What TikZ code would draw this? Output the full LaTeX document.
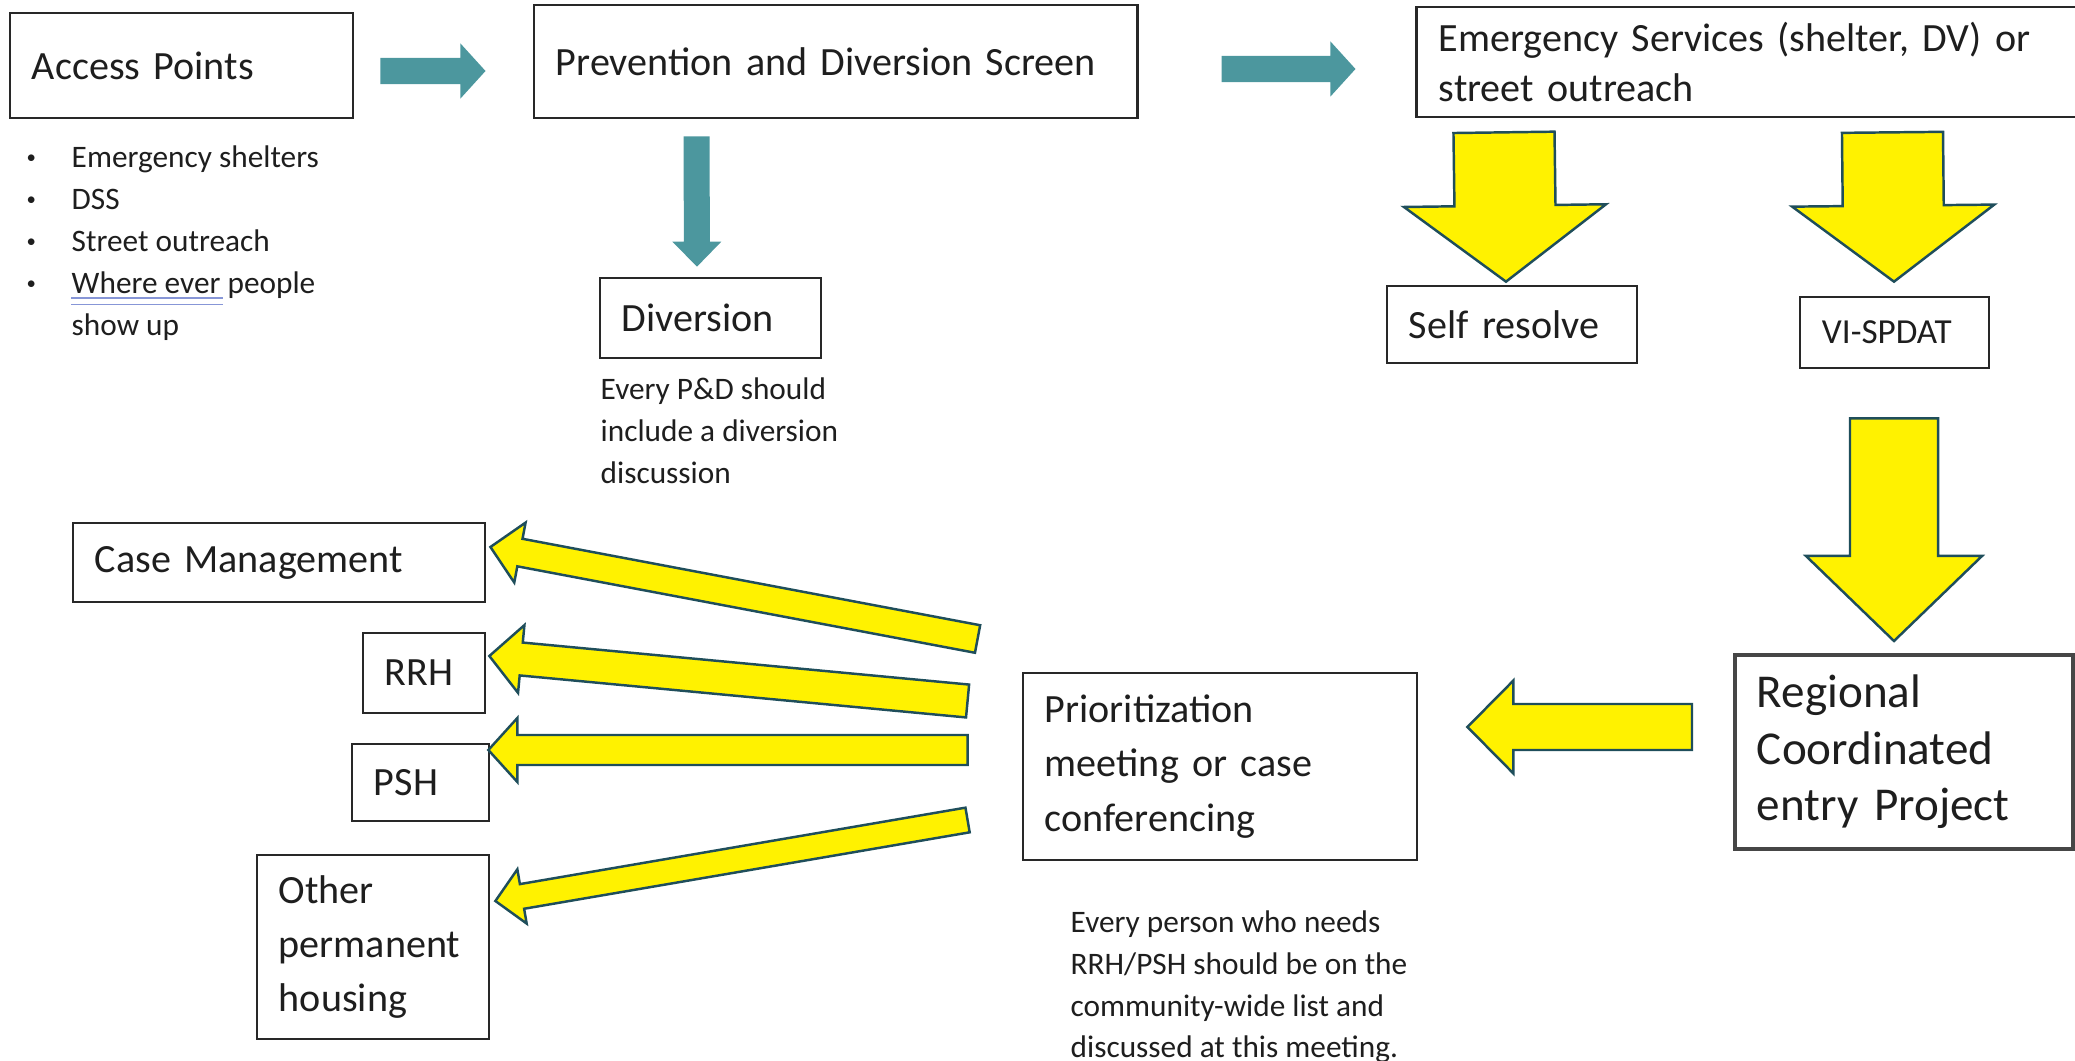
\documentclass[tikz,border=0pt]{standalone}
\usepackage{fontspec}
\setmainfont{Carlito}
\usepackage{tikz}
\usetikzlibrary{calc}
\usepackage{xcolor}

\definecolor{boxline}{RGB}{40,40,40}
\definecolor{regline}{RGB}{70,70,70}
\definecolor{textgray}{RGB}{30,30,30}
\definecolor{tealfill}{RGB}{76,151,158}
\definecolor{arrowedge}{RGB}{31,78,91}
\definecolor{spellblue}{RGB}{135,150,215}

% block arrow: [style]{tail}{tip}{shaft half width}{head half width}{head length}
\newcommand{\blockarrow}[6][]{%
  \coordinate (hb) at ($(#3)!#6!(#2)$);
  \draw[#1] ($(#2)!#4!90:(#3)$) -- ($(hb)!#4!90:(#3)$) -- ($(hb)!#5!90:(#3)$) -- (#3)
    -- ($(hb)!#5!-90:(#3)$) -- ($(hb)!#4!-90:(#3)$) -- ($(#2)!#4!-90:(#3)$) -- cycle;}
\newcommand{\bitem}{\makebox[0.49cm][l]{\hspace{0.04cm}\raisebox{0.13em}{\scalebox{0.6}{\textbullet}}}}

\begin{document}
\begin{tikzpicture}[x=0.01cm, y=-0.01cm,
    box/.style={draw=boxline, line width=0.75pt, inner xsep=0.22cm, inner ysep=0pt,
      align=left, text=textgray, font=\fontsize{11.4}{15.4}\selectfont},
    note/.style={anchor=north west, inner sep=0pt, align=left, text=textgray,
      font=\fontsize{8.9}{11.9}\selectfont},
    tealarrow/.style={fill=tealfill, draw=none},
    yellowarrow/.style={fill=yellow, draw=arrowedge, line width=0.7pt, line join=miter}]

        \useasboundingbox (0,0) rectangle (2075,1061);
        \clip (0,0) rectangle (2075,1061);

        % Top row of boxes
        \node[box, text width=2.99cm, minimum height=1.05cm] (access) at (181.5,65.5) {Access Points};
        \node[box, text width=5.59cm, minimum height=1.13cm] (screen) at (835.5,61.5) {Prevention and Diversion Screen};
        \node[box, text width=6.36cm, minimum height=1.10cm, font=\fontsize{11.4}{14.2}\selectfont] (emerg) at (1757,62) {Emergency Services (shelter, DV) or\\street outreach};

        % Second row of boxes
        \node[box, text width=1.77cm, minimum height=0.80cm] (diversion) at (710.5,318) {Diversion};
        \node[box, text width=2.06cm, minimum height=0.77cm] (selfres) at (1512,324.5) {Self resolve};
        \node[box, text width=1.45cm, minimum height=0.71cm, font=\fontsize{10}{12}\selectfont] (vispdat) at (1894.5,332.5) {VI-SPDAT};

        % Lower part
        \node[box, text width=2.94cm, minimum height=1.94cm, draw=regline, line width=1.1pt, font=\fontsize{13.4}{16.1}\selectfont] (regional) at (1904,752) {Regional\\Coordinated\\entry Project};
        \node[box, text width=3.50cm, minimum height=1.87cm] (prio) at (1220,766.5) {Prioritization\\meeting or case\\conferencing};
        \node[box, text width=3.68cm, minimum height=0.79cm] (casemgmt) at (279,562.5) {Case Management};
        \node[box, text width=0.78cm, minimum height=0.80cm] (rrh) at (424,673) {RRH};
        \node[box, text width=0.93cm, minimum height=0.77cm] (psh) at (420.5,782.5) {PSH};
        \node[box, text width=1.88cm, minimum height=1.84cm] (other) at (373,947) {Other\\permanent\\housing};

        % Notes
        \node[note] (access list) at (22,145.5) {\bitem Emergency shelters\\\bitem DSS\\\bitem Street outreach\\\bitem Where ever people\\\hspace*{0.49cm}show up};
        \node[note] (div note) at (600,377.5) {Every P\&D should\\include a diversion\\discussion};
        \node[note] (prio note) at (1070,910) {Every person who needs\\RRH/PSH should be on the\\community-wide list and\\discussed at this meeting.};
        \draw[spellblue, line width=0.35pt] (71,298) -- (223,298) (71,304.5) -- (223,304.5); % spell check mark

        % Arrow end points
        \coordinate (a1 tail) at ($(access.east)+(26,5.5)$);
        \coordinate (a1 tip) at ($(screen.west)+(-47,9.5)$);
        \coordinate (a2 tail) at ($(screen.east)+(83,7.5)$);
        \coordinate (a2 tip) at ($(emerg.west)+(-60,7)$);
        \coordinate (a3 tail) at ($(screen.south west)+(164,17)$);
        \coordinate (a3 tip) at ($(diversion.north)+(-13.5,-10)$);

        \coordinate (y1 tail) at ($(emerg.south west)+(88.5,14)$);
        \coordinate (y1 tip) at ($(selfres.north)+(-6,-3)$);
        \coordinate (y2 tail) at ($(emerg.south west)+(477,14)$);
        \coordinate (y2 tip) at ($(vispdat.north)+(-0.5,-14)$);
        \coordinate (y3 tail) at ($(vispdat.south)+(-0.5,49)$);
        \coordinate (y3 tip) at ($(regional.north)+(-10,-12)$);
        \coordinate (y4 tail) at ($(regional.west)+(-41,-25)$);
        \coordinate (y4 tip) at ($(prio.east)+(49,-39.5)$);

        \coordinate (cm tail) at ($(prio.west)+(-44,-127.5)$);
        \coordinate (cm tip) at ($(casemgmt.east)+(4,-15.5)$);
        \coordinate (rrh tail) at ($(prio.west)+(-54,-65.5)$);
        \coordinate (rrh tip) at ($(rrh.east)+(3,-17)$);
        \coordinate (psh tail) at ($(prio.west)+(-54,-16.5)$);
        \coordinate (psh tip) at ($(psh.east)+(-2,-32.5)$);
        \coordinate (oth tail) at ($(prio.west)+(-54,53.5)$);
        \coordinate (oth tip) at ($(other.east)+(5,-46)$);

        % Draw teal arrows
        \blockarrow[tealarrow]{a1 tail}{a1 tip}{0.13cm}{0.275cm}{0.25cm}
        \blockarrow[tealarrow]{a2 tail}{a2 tip}{0.13cm}{0.275cm}{0.25cm}
        \blockarrow[tealarrow]{a3 tail}{a3 tip}{0.13cm}{0.245cm}{0.25cm}

        % Draw yellow arrows
        \blockarrow[yellowarrow]{y1 tail}{y1 tip}{0.505cm}{1.01cm}{0.76cm}
        \blockarrow[yellowarrow]{y2 tail}{y2 tip}{0.505cm}{1.01cm}{0.76cm}
        \blockarrow[yellowarrow]{y3 tail}{y3 tip}{0.44cm}{0.88cm}{0.85cm}
        \blockarrow[yellowarrow]{y4 tail}{y4 tip}{0.23cm}{0.465cm}{0.46cm}

        \blockarrow[yellowarrow]{cm tail}{cm tip}{0.14cm}{0.305cm}{0.30cm}
        \blockarrow[yellowarrow]{rrh tail}{rrh tip}{0.165cm}{0.34cm}{0.32cm}
        \blockarrow[yellowarrow]{psh tail}{psh tip}{0.15cm}{0.32cm}{0.29cm}
        \blockarrow[yellowarrow]{oth tail}{oth tip}{0.125cm}{0.275cm}{0.27cm}

    \end{tikzpicture}
\end{document}
